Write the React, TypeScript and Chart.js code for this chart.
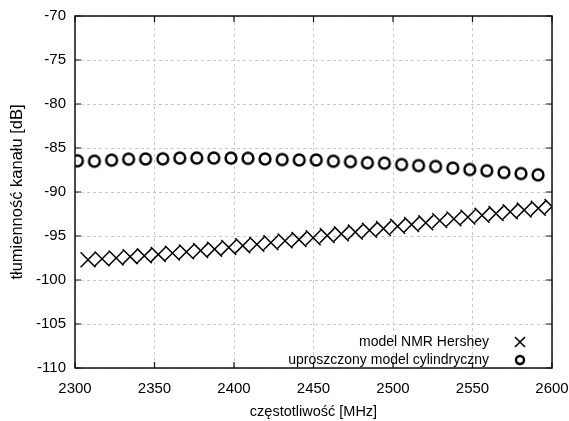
import React, { useEffect, useRef } from "react";
import { Chart, registerables } from "chart.js";

Chart.register(...registerables);

const hersheyFreq = [
  2308.2, 2317.0, 2325.9, 2334.7, 2343.6, 2352.4, 2361.3, 2370.1, 2379.0, 2387.8,
  2396.7, 2405.5, 2414.4, 2423.2, 2432.1, 2440.9, 2449.8, 2458.6, 2467.5, 2476.3,
  2485.2, 2494.0, 2502.9, 2511.7, 2520.6, 2529.4, 2538.3, 2547.1, 2556.0, 2564.8,
  2573.7, 2582.5, 2591.4, 2600.0,
];
const hersheyLoss = [
  -97.7, -97.6, -97.5, -97.35, -97.25, -97.1, -96.95, -96.8, -96.65, -96.5,
  -96.3, -96.1, -95.95, -95.75, -95.55, -95.4, -95.2, -94.95, -94.75, -94.55,
  -94.35, -94.15, -93.9, -93.7, -93.5, -93.25, -93.05, -92.85, -92.65, -92.45,
  -92.25, -92.05, -91.85, -91.65,
];
const cylFreq = [
  2301.5, 2312.2, 2323.0, 2333.7, 2344.4, 2355.2, 2365.9, 2376.6, 2387.3, 2398.1,
  2408.8, 2419.5, 2430.3, 2441.0, 2451.7, 2462.5, 2473.2, 2483.9, 2494.6, 2505.4,
  2516.1, 2526.8, 2537.6, 2548.3, 2559.0, 2569.8, 2580.5, 2591.2,
];
const cylLoss = [
  -86.45, -86.5, -86.38, -86.27, -86.25, -86.23, -86.15, -86.14, -86.14, -86.15,
  -86.17, -86.25, -86.32, -86.36, -86.36, -86.5, -86.55, -86.68, -86.72, -86.88,
  -87.0, -87.1, -87.28, -87.45, -87.58, -87.78, -87.9, -88.05,
];
const legendLabels = ["model NMR Hershey", "uproszczony model cylindryczny"];
const xTitle = "częstotliwość [MHz]";
const yTitle = "tłumienność kanału [dB]";
const xMin = 2300, xMax = 2600, xStep = 50;
const yMin = -110, yMax = -70, yStep = 5;

const FONT = "'Liberation Sans', Arial, sans-serif";

function makeCircle(r: number, lw: number): HTMLCanvasElement {
  const size = Math.ceil(2 * r + lw + 2);
  const c = document.createElement("canvas");
  c.width = size;
  c.height = size;
  const g = c.getContext("2d")!;
  g.strokeStyle = "#000";
  g.lineWidth = lw;
  g.beginPath();
  g.arc(size / 2, size / 2, r, 0, Math.PI * 2);
  g.stroke();
  g.fillStyle = "#999";
  g.fillRect(size / 2 - 0.5, size / 2 - 0.5, 1, 1);
  return c;
}

function drawX(ctx: CanvasRenderingContext2D, x: number, y: number, h: number, lw: number) {
  ctx.save();
  ctx.strokeStyle = "#000";
  ctx.lineWidth = lw;
  ctx.beginPath();
  ctx.moveTo(x - h, y - h);
  ctx.lineTo(x + h, y + h);
  ctx.moveTo(x + h, y - h);
  ctx.lineTo(x - h, y + h);
  ctx.stroke();
  ctx.restore();
}

const framePlugin = {
  id: "frame",
  afterDraw(chart: any) {
    const { ctx, chartArea: a, scales } = chart;
    ctx.save();
    ctx.strokeStyle = "#111";
    ctx.lineWidth = 1.5;
    ctx.strokeRect(a.left, a.top, a.right - a.left, a.bottom - a.top);
    const t = 6;
    ctx.lineWidth = 1.2;
    ctx.beginPath();
    for (let v = xMin; v <= xMax; v += xStep) {
      const px = scales.x.getPixelForValue(v);
      ctx.moveTo(px, a.bottom);
      ctx.lineTo(px, a.bottom - t);
      ctx.moveTo(px, a.top);
      ctx.lineTo(px, a.top + t);
    }
    for (let v = yMin; v <= yMax; v += yStep) {
      const py = scales.y.getPixelForValue(v);
      ctx.moveTo(a.left, py);
      ctx.lineTo(a.left + t, py);
      ctx.moveTo(a.right, py);
      ctx.lineTo(a.right - t, py);
    }
    ctx.stroke();

    // legend
    ctx.fillStyle = "#000";
    ctx.font = `14px ${FONT}`;
    ctx.textAlign = "right";
    ctx.textBaseline = "middle";
    const tx = a.right - 63;
    const sx = a.right - 32;
    const y1 = a.bottom - 26;
    const y2 = a.bottom - 8;
    ctx.fillText(legendLabels[0], tx, y1);
    ctx.fillText(legendLabels[1], tx, y2);
    drawX(ctx, sx, y1, 5, 1.6);
    ctx.strokeStyle = "#000";
    ctx.lineWidth = 2.4;
    ctx.beginPath();
    ctx.arc(sx, y2, 4, 0, Math.PI * 2);
    ctx.stroke();
    ctx.restore();
  },
};

export default function App() {
  const ref = useRef<HTMLCanvasElement>(null);
  useEffect(() => {
    document.body.style.margin = "0";
    const circle = makeCircle(5.4, 2.5);
    const chart = new Chart(ref.current!, {
      type: "scatter",
      data: {
        datasets: [
          {
            label: legendLabels[0],
            data: hersheyFreq.map((f, i) => ({ x: f, y: hersheyLoss[i] })),
            pointStyle: "crossRot",
            pointRadius: 10.5,
            borderColor: "#000",
            backgroundColor: "#000",
            borderWidth: 1.5,
          },
          {
            label: legendLabels[1],
            data: cylFreq.map((f, i) => ({ x: f, y: cylLoss[i] })),
            pointStyle: circle as any,
            pointRadius: 7,
            borderColor: "#000",
            backgroundColor: "#000",
          },
        ],
      },
      options: {
        responsive: false,
        animation: false,
        events: [],
        layout: { padding: { top: 16, right: 17, left: 6, bottom: 0 } },
        plugins: { legend: { display: false }, tooltip: { enabled: false } },
        scales: {
          x: {
            type: "linear",
            min: xMin,
            max: xMax,
            ticks: {
              stepSize: xStep,
              color: "#000",
              font: { family: FONT, size: 15 },
              padding: 12,
              maxRotation: 0,
              callback: (v: any) => String(v),
            },
            grid: { color: "#c8c8c8", lineWidth: 1, drawTicks: false },
            border: { display: false, dash: [3, 3] },
            title: { display: true, text: xTitle, color: "#000", font: { family: FONT, size: 14.5 }, padding: { top: 6, bottom: 0 } },
            afterFit: (s: any) => { s.height = 53; s.paddingRight = 0; s.paddingLeft = 0; },
          },
          y: {
            type: "linear",
            min: yMin,
            max: yMax,
            ticks: { stepSize: yStep, color: "#000", font: { family: FONT, size: 15 }, padding: 9 },
            grid: { color: "#c8c8c8", lineWidth: 1, drawTicks: false },
            border: { display: false, dash: [3, 3] },
            title: { display: true, text: yTitle, color: "#000", font: { family: FONT, size: 16.5 }, padding: { top: 2, bottom: 4 } },
            afterFit: (s: any) => { s.width = 69; s.paddingTop = 0; s.paddingBottom = 0; },
          },
        },
      },
      plugins: [framePlugin],
    });
    return () => chart.destroy();
  }, []);
  return <canvas ref={ref} width={569} height={421} style={{ display: "block" }} />;
}
